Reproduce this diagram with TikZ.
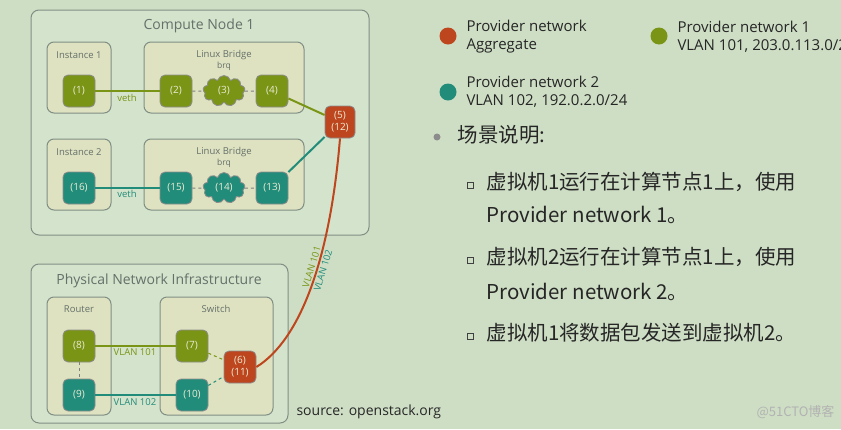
\documentclass[tikz,border=0pt]{standalone}
\usepackage{fontspec}
\setmainfont{Open Sans}
\newfontfamily\cjk{Noto Sans CJK SC}
\usetikzlibrary{shapes.symbols}
\definecolor{bgcol}{RGB}{206,222,196}
\definecolor{areacol}{RGB}{212,227,203}
\definecolor{boxcol}{RGB}{222,226,192}
\definecolor{framecol}{RGB}{128,143,133}
\definecolor{titlecol}{RGB}{100,112,106}
\definecolor{olivecol}{RGB}{122,148,22}
\definecolor{tealcol}{RGB}{34,140,122}
\definecolor{redcol}{RGB}{190,70,30}
\definecolor{portcol}{RGB}{236,236,212}
\tikzset{
  area/.style={draw=framecol, fill=areacol, line width=1pt, rounded corners=8pt},
  device/.style={draw=framecol, fill=boxcol, line width=1pt, rounded corners=7pt},
  areatitle/.style={text=titlecol, font=\fontsize{14}{16}\selectfont},
  devtitle/.style={text=titlecol, font=\fontsize{9.5}{11}\selectfont},
  port/.style={rounded corners=5pt, minimum width=32pt, minimum height=32pt, inner sep=0pt,
    draw=black!45, line width=0.8pt, text=portcol, font=\fontsize{10}{12}\selectfont, align=center},
  bridge/.style={cloud, cloud puffs=9, aspect=1.3, minimum width=42pt, minimum height=31pt, inner sep=0pt,
    draw=black!45, line width=0.8pt, text=portcol, font=\fontsize{10}{12}\selectfont},
  link/.style={line width=2pt},
  tie/.style={line width=1pt, dash pattern=on 3pt off 3pt},
  tag/.style={font=\fontsize{9.5}{11}\selectfont},
  legend/.style={anchor=west, align=left, text=black!85, font=\fontsize{15}{18}\selectfont},
  item/.style={anchor=west, text=black!85, font=\cjk\fontsize{20.5}{24}\selectfont}
}
\begin{document}
\begin{tikzpicture}[x=1pt,y=-1pt]
\fill[bgcol] (0,0) rectangle (841,429);
\useasboundingbox (0,0) rectangle (841,429);

\draw[area] (31,10) rectangle (369,235);
\node[areatitle] (cntitle) at (199,26) {Compute Node 1};
\draw[device] (47,42) rectangle (111,113);
\node[devtitle] (inst1) at (79,55) {Instance 1};
\draw[device] (144,42) rectangle (304,113);
\node[devtitle] (br1) at (224,55) {Linux Bridge};
\node[devtitle, font=\fontsize{8.5}{10}\selectfont] (brq1) at (224,66) {brq};
\draw[device] (47,139) rectangle (111,210);
\node[devtitle] (inst2) at (79,152) {Instance 2};
\draw[device] (144,139) rectangle (304,210);
\node[devtitle] (br2) at (224,152) {Linux Bridge};
\node[devtitle, font=\fontsize{8.5}{10}\selectfont] (brq2) at (224,163) {brq};

\draw[area] (31,264) rectangle (288,423);
\node[areatitle] (pntitle) at (159,281) {Physical Network Infrastructure};
\draw[device] (47,297) rectangle (111,415);
\node[devtitle] (router) at (79,309) {Router};
\draw[device] (160,297) rectangle (273,415);
\node[devtitle] (switch) at (216,309) {Switch};

\node[port, fill=olivecol] (p1) at (79,91) {(1)};
\node[port, fill=olivecol] (p2) at (176,91) {(2)};
\node[bridge, fill=olivecol] (p3) at (224,91) {(3)};
\node[port, fill=olivecol] (p4) at (272,91) {(4)};
\node[port, fill=tealcol] (p16) at (79,188) {(16)};
\node[port, fill=tealcol] (p15) at (176,188) {(15)};
\node[bridge, fill=tealcol] (p14) at (224,188) {(14)};
\node[port, fill=tealcol] (p13) at (272,188) {(13)};
\node[port, fill=redcol, minimum width=30pt] (p5) at (340,122) {(5)\\(12)};
\node[port, fill=olivecol] (p8) at (79,346) {(8)};
\node[port, fill=tealcol] (p9) at (79,395) {(9)};
\node[port, fill=olivecol] (p7) at (192,346) {(7)};
\node[port, fill=tealcol] (p10) at (192,395) {(10)};
\node[port, fill=redcol] (p6) at (240,367) {(6)\\(11)};

\draw[link, olivecol] (p1) -- (p2);
\draw[link, tealcol] (p16) -- (p15);
\draw[link, olivecol] (p4) -- (p5);
\draw[link, tealcol] (p13) -- (p5);
\draw[link, olivecol] (p8) -- (p7);
\draw[link, tealcol] (p9) -- (p10);
\draw[tie, black!50] (p2) -- (p3);
\draw[tie, black!50] (p3) -- (p4);
\draw[tie, black!50] (p15) -- (p14);
\draw[tie, black!50] (p14) -- (p13);
\draw[tie, black!50] (p8) -- (p9);
\draw[tie, olivecol] (p7) -- (p6);
\draw[tie, tealcol] (p10) -- (p6);
\draw[link, redcol] (p5.south) .. controls (330,260) and (300,340) .. (p6.east)
  node[tag, sloped, above=1.5pt, pos=0.42, text=olivecol, inner sep=0pt] (vlanup) {VLAN 101}
  node[tag, sloped, below=1.5pt, pos=0.42, text=tealcol, inner sep=0pt] (vlandown) {VLAN 102};

\node[tag, text=olivecol] (veth1) at (127,98) {veth};
\node[tag, text=tealcol] (veth2) at (127,194) {veth};
\node[tag, text=olivecol] (vlan101) at (135,352) {VLAN 101};
\node[tag, text=tealcol] (vlan102) at (135,402) {VLAN 102};
\node[anchor=west, text=black!85, font=\fontsize{14}{16}\selectfont] (source) at (293,412) {source: openstack.org};

\fill[redcol] (448,36) circle (8.5);
\node[legend] (aggr) at (463,37) {Provider network\\Aggregate};
\fill[olivecol] (659,36) circle (8.5);
\node[legend] (pn1) at (674,37) {Provider network 1\\VLAN 101, 203.0.113.0/24};
\fill[tealcol] (448,92) circle (8.5);
\node[legend] (pn2) at (463,92) {Provider network 2\\VLAN 102, 192.0.2.0/24};

\fill[black!45] (437,137) circle (3.5);
\node[item] (scene) at (454,135) {场景说明:};
\foreach \y/\t in {182/虚拟机1运行在计算节点1上，使用, 257/虚拟机2运行在计算节点1上，使用, 333/虚拟机1将数据包发送到虚拟机2。}{
  \draw[black!75, line width=1pt] (467,\y) rectangle +(6,6);
  \node[item] at (483,\y) {\t};
}
\node[item] (pn1text) at (483,215) {Provider network 1。};
\node[item] (pn2text) at (483,292) {Provider network 2。};
\node[anchor=east, text=white!70!black, font=\cjk\fontsize{13}{15}\selectfont] (mark) at (838,412) {@51CTO博客};
\end{tikzpicture}
\end{document}
